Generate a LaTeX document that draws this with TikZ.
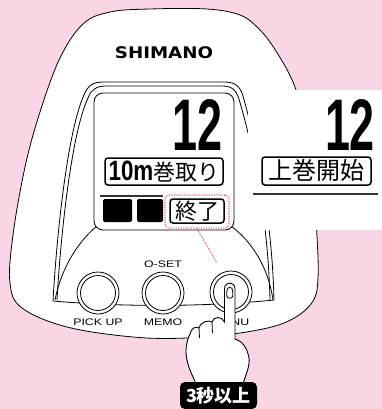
\documentclass[tikz,border=0pt]{standalone}
\usepackage{fontspec}
\usepackage{graphicx}
\setmainfont{Liberation Sans}
\newfontfamily\jp{Noto Sans CJK JP}
\newfontfamily\brandfont{DejaVu Sans}
\definecolor{bgpink}{RGB}{249,213,230}
\definecolor{hotpink}{RGB}{236,90,160}
\definecolor{rulegray}{RGB}{50,50,50}
\newcommand\widecaps[1]{\scalebox{1.3}[1]{#1}}
% CJK text with its box trimmed to the visible glyph height
\newcommand\tightjp[1]{\raisebox{0pt}[0.82em][0.08em]{\jp #1}}

\begin{document}
\begin{tikzpicture}[x=1pt,y=-1pt,
  outline/.style={draw=black,line width=0.8pt},
  lcdbox/.style={draw=black,line width=1.5pt,rounded corners=3pt,fill=white,inner sep=0pt},
  segblock/.style={fill=black,rounded corners=2pt,inner sep=0pt},
  btnouter/.style={circle,draw=black,line width=0.8pt,fill=white,minimum size=42pt,inner sep=0pt},
  btninner/.style={circle,draw=black,line width=0.8pt,minimum size=35pt,inner sep=0pt},
  btnlabel/.style={inner sep=0pt,font=\fontsize{9.5}{9.5}\selectfont},
  pinkdots/.style={draw=hotpink,line width=1.2pt,dash pattern=on 1.2pt off 1.3pt},
]
% background
\useasboundingbox (0,0) rectangle (382,409);
\fill[bgpink] (0,0) rectangle (382,409);

% device body
\draw[outline,fill=white] plot[smooth cycle,tension=0.6] coordinates {
  (10,283) (13,235) (25,167) (40,112) (60,58) (83,24) (110,12) (150,9)
  (207,9) (240,15) (258,28) (274,48) (293,82) (304,120) (311,165)
  (316,220) (318,278) (311,304) (284,323) (240,333) (187,338) (133,337)
  (67,327) (22,308)};

\node[inner sep=0pt] (brand) at (164,53)
  {\scalebox{1.14}[1]{\fontsize{16}{16}\selectfont\brandfont\bfseries SHIMANO}};

% bezel around the display
\draw[outline] (53,301) .. controls (57,230) and (68,130) .. (84,95)
  .. controls (88,85) and (93,82) .. (104,82) -- (224,82)
  .. controls (235,82) and (240,86) .. (243,96)
  .. controls (258,150) and (272,220) .. (274,300);
\draw[outline] (57,300) .. controls (61,230) and (72,132) .. (88,98)
  .. controls (91,90) and (96,86) .. (106,86) -- (222,86)
  .. controls (232,86) and (236,90) .. (239,99)
  .. controls (254,150) and (268,220) .. (270,300);

% lower face with the buttons
\draw[outline] (97,226) .. controls (80,240) and (62,265) .. (55,300);
\draw[outline] (231,226) .. controls (250,240) and (268,265) .. (273,300);
\draw[outline] (53,301) .. controls (120,307) and (205,307) .. (274,300);

% display glass
\draw[outline,fill=white,rounded corners=9pt] (94,93) rectangle (234,230);

\node[inner sep=0pt] (digits) at (198,124.5) {\resizebox{50pt}{51pt}{\bfseries 12}};
\node[lcdbox,minimum width=118pt,minimum height=27pt] (mode) at (164,171.5)
  {\scalebox{0.8}[1]{\fontsize{28}{28}\selectfont\bfseries 10m}{\fontsize{22}{22}\selectfont\tightjp{巻取り}}};
\draw[rulegray,line width=1.3pt] (100,196) -- (163,196);
\node[segblock,minimum width=29pt,minimum height=23pt] (blk1) at (117.5,210.5) {};
\node[segblock,minimum width=26pt,minimum height=23pt] (blk2) at (150,210.5) {};
\node[lcdbox,minimum width=54pt,minimum height=24pt] (endbox) at (197,211)
  {\fontsize{22}{22}\selectfont\tightjp{終了}};

% buttons
\node[btnouter] (pick) at (98,293) {};
\node[btninner] at (pick) {};
\node[btnouter] (memo) at (163,293) {};
\node[btninner] at (memo) {};
\node[btnouter] (menu) at (231,292) {};
\node[btninner] at (menu) {};

\node[btnlabel] (oset) at (163,264) {\widecaps{O-SET}};
\node[btnlabel] (pickl) at (98,322) {\widecaps{PICK UP}};
\node[btnlabel] (memol) at (163,322) {\widecaps{MEMO}};
\node[btnlabel] (menul) at (231,322) {\widecaps{MENU}};

% highlight of the end item and its pointer to the MENU button
\node[pinkdots,rounded corners=4pt,minimum width=64pt,minimum height=33pt] (sel) at (197,211.5) {};
\coordinate (menutop) at (217,263);
\draw[pinkdots] (sel.south) -- (menutop);

% enlarged inset of the display
\fill[white] (248,90) rectangle (382,230);
\node[inner sep=0pt] (digits2) at (350,124.5) {\resizebox{50pt}{51pt}{\bfseries 12}};
\node[lcdbox,minimum width=109pt,minimum height=28pt] (mode2) at (316.5,171)
  {\fontsize{24}{24}\selectfont\tightjp{上巻開始}};
\draw[rulegray,line width=2pt] (253,194) -- (378,194);

% hand pressing the MENU button
\draw[outline,fill=white,line width=0.9pt]
  (224.5,322) .. controls (222,316) and (214,316) .. (212,322)
  .. controls (209,320) and (201,321) .. (199,328)
  .. controls (196,326) and (191,328) .. (190,334)
  .. controls (186,342) and (185,352) .. (187,360)
  .. controls (189,370) and (193,376) .. (196,384)
  -- (243,384)
  .. controls (246,374) and (250,366) .. (249,358)
  .. controls (247,347) and (242,341) .. (235,339)
  -- (235,289) .. controls (235,281) and (224.5,281) .. (224.5,289) -- cycle;
\draw[outline] (226.8,292) .. controls (226.8,285.5) and (232.7,285.5) .. (232.7,292)
  -- (232.7,296) .. controls (232.7,299) and (226.8,299) .. (226.8,296) -- cycle;
\draw[outline] (212,322) -- (212.5,333);
\draw[outline] (199,328) -- (199.5,338);

% duration tag
\node[fill=black,rounded corners=5pt,minimum width=77pt,minimum height=27pt,inner sep=0pt,
  text=white,font=\fontsize{18}{18}\selectfont\bfseries] (tag) at (218.5,395.5) {\tightjp{3秒以上}};
\end{tikzpicture}
\end{document}
